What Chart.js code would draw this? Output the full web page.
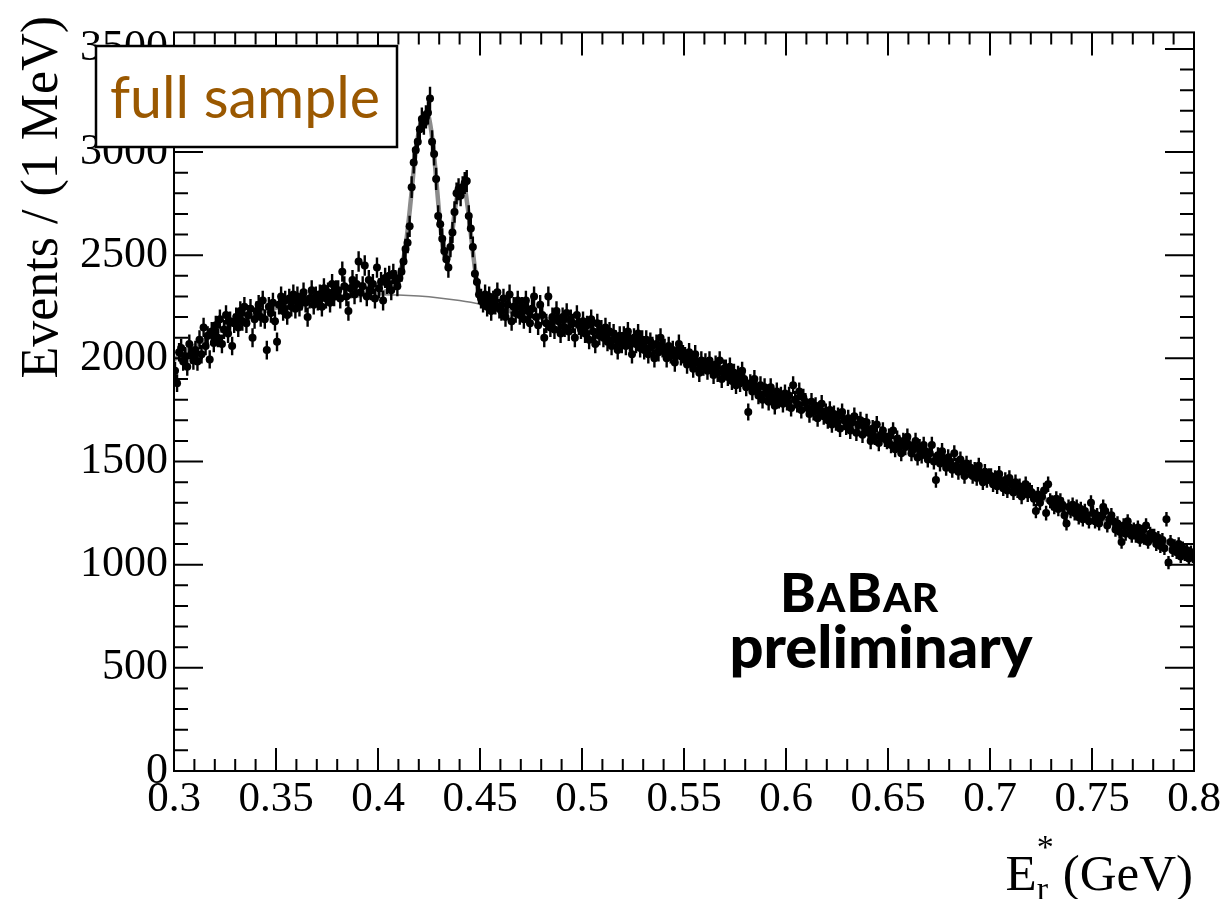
<!DOCTYPE html>
<html><head><meta charset="utf-8">
<script src="https://cdn.jsdelivr.net/npm/chart.js@4.4.1/dist/chart.umd.min.js"></script>
<style>html,body{margin:0;padding:0;background:#fff;}#wrap{width:1225px;height:899px;}</style>
</head><body><div id="wrap"><canvas id="c" width="1225" height="899"></canvas></div>
<script>
// histogram: 1 MeV bins from 0.300 to 0.800 GeV
const binStart = 0.3;
const binWidth = 0.001;
const counts = [
1940,1880,2030,2050,1985,2010,1960,2070,2020,1990,
2040,1985,2090,2020,2150,2060,2110,1995,2130,2075,
2160,2100,2190,2070,2140,2210,2120,2180,2060,2170,
2200,2150,2230,2180,2250,2170,2210,2240,2100,2190,
2230,2260,2200,2280,2190,2040,2250,2220,2270,2180,
2080,2260,2300,2230,2280,2210,2290,2250,2310,2240,
2300,2250,2280,2320,2270,2200,2290,2330,2260,2300,
2280,2310,2250,2340,2290,2320,2270,2360,2300,2330,
2330,2290,2420,2350,2300,2230,2340,2380,2310,2360,
2470,2320,2350,2450,2300,2380,2330,2360,2290,2440,
2340,2370,2280,2390,2360,2400,2330,2410,2380,2350,
2390,2420,2470,2530,2560,2640,2830,2950,3010,3050,
3110,3160,3140,3170,3190,3260,3050,2990,2870,2690,
2650,2580,2520,2480,2440,2540,2610,2710,2800,2820,
2790,2830,2850,2860,2690,2630,2540,2410,2370,2310,
2290,2270,2310,2250,2300,2230,2280,2260,2320,2240,
2230,2290,2200,2260,2310,2180,2250,2220,2280,2210,
2250,2190,2280,2230,2170,2240,2300,2200,2160,2260,
2210,2100,2170,2300,2150,2200,2140,2230,2180,2120,
2200,2150,2220,2130,2190,2170,2100,2210,2160,2140,
2180,2120,2160,2090,2190,2130,2070,2170,2110,2140,
2100,2150,2080,2130,2060,2120,2090,2040,2110,2070,
2110,2060,2130,2080,2020,2100,2070,2120,2050,2090,
2040,2090,2020,2080,2060,2000,2070,2030,2100,2050,
2050,2000,2060,2020,2040,1980,2030,2070,2010,2020,
2010,1970,2030,1990,1950,2020,1980,1930,1990,1960,
1980,1940,1990,1950,1920,1970,1930,1990,1900,1950,
1950,1910,1960,1890,1930,1870,1920,1880,1940,1900,
1860,1740,1880,1840,1900,1850,1820,1870,1800,1860,
1830,1790,1860,1810,1770,1840,1800,1820,1780,1830,
1790,1820,1760,1870,1800,1780,1840,1750,1810,1790,
1760,1730,1790,1740,1770,1710,1750,1780,1720,1740,
1700,1750,1680,1730,1690,1720,1660,1740,1700,1670,
1710,1650,1690,1720,1640,1680,1700,1630,1670,1690,
1640,1600,1660,1620,1680,1590,1630,1650,1610,1600,
1620,1580,1650,1560,1610,1590,1540,1600,1570,1620,
1580,1540,1560,1600,1520,1570,1530,1580,1550,1510,
1540,1580,1500,1410,1530,1490,1550,1510,1470,1520,
1500,1460,1540,1480,1450,1510,1470,1430,1490,1460,
1470,1430,1460,1420,1480,1440,1400,1450,1410,1430,
1430,1390,1420,1380,1440,1400,1370,1410,1360,1420,
1390,1350,1400,1360,1380,1330,1370,1390,1340,1360,
1350,1320,1260,1340,1300,1330,1360,1250,1390,1310,
1300,1280,1320,1270,1310,1290,1240,1200,1280,1260,
1290,1250,1280,1230,1270,1220,1260,1240,1210,1300,
1250,1210,1240,1200,1230,1280,1260,1190,1220,1240,
1210,1170,1200,1160,1110,1190,1150,1210,1180,1140,
1170,1140,1180,1120,1160,1130,1190,1110,1150,1140,
1140,1100,1130,1090,1120,1080,1220,1010,1110,1070,
1090,1060,1100,1040,1080,1050,1070,1030,1060,1040
];
// total fit curve
const fitX = [0.300,0.310,0.320,0.330,0.340,0.350,0.360,0.370,0.380,0.390,0.400,0.404,0.408,0.410,0.412,0.414,0.416,0.418,0.420,0.422,0.424,0.426,0.428,0.430,0.432,0.434,0.436,0.438,0.440,0.442,0.444,0.446,0.448,0.450,0.452,0.456,0.460,0.470,0.480,0.490,0.500,0.510,0.520,0.530,0.540,0.550,0.560,0.570,0.580,0.590,0.600,0.610,0.620,0.630,0.640,0.650,0.660,0.670,0.680,0.690,0.700,0.710,0.720,0.730,0.740,0.750,0.760,0.770,0.780,0.790,0.800];
const fitY = [1995,2060,2120,2172,2213,2245,2268,2285,2297,2305,2315,2325,2360,2395,2460,2580,2760,2960,3100,3175,3190,3110,2930,2700,2520,2470,2580,2740,2830,2840,2730,2560,2400,2300,2262,2250,2238,2218,2196,2175,2152,2125,2095,2063,2030,1997,1962,1926,1889,1850,1805,1764,1723,1682,1641,1600,1562,1525,1488,1451,1415,1379,1343,1307,1271,1235,1200,1166,1132,1098,1065];
// background component
const bkgX = [0.30,0.31,0.32,0.33,0.34,0.35,0.36,0.37,0.38,0.39,0.40,0.41,0.42,0.43,0.44,0.45,0.46,0.47,0.48,0.49,0.50,0.51,0.52,0.53,0.54,0.55,0.56,0.57,0.58,0.59,0.60,0.61,0.62,0.63,0.64,0.65,0.66,0.67,0.68,0.69,0.70,0.71,0.72,0.73,0.74,0.75,0.76,0.77,0.78,0.79,0.80];
const bkgY = [1995,2060,2120,2172,2213,2245,2268,2285,2297,2305,2308,2307,2302,2293,2280,2263,2240,2218,2196,2175,2152,2125,2095,2063,2030,1997,1962,1926,1889,1850,1805,1764,1723,1682,1641,1600,1562,1525,1488,1451,1415,1379,1343,1307,1271,1235,1200,1166,1132,1098,1065];
const xTicks = [0.3,0.35,0.4,0.45,0.5,0.55,0.6,0.65,0.7,0.75,0.8];
const xTickLabels = ['0.3','0.35','0.4','0.45','0.5','0.55','0.6','0.65','0.7','0.75','0.8'];
const yTicks = [0,500,1000,1500,2000,2500,3000,3500];
const yTickLabels = ['0','500','1000','1500','2000','2500','3000','3500'];
const xMinorStep = 0.01, yMinorStep = 100;
const yMax = 3580;

const serif = '"Liberation Serif","Times New Roman",serif';
const points = counts.map((n,i)=>({x: binStart + (i+0.5)*binWidth, y: n}));

const decor = {
  id:'decor',
  afterDatasetsDraw(chart){
    const c = chart.ctx, xs = chart.scales.x, ys = chart.scales.y, a = chart.chartArea;
    c.save();
    c.beginPath(); c.rect(a.left, a.top, a.right-a.left, a.bottom-a.top); c.clip();
    c.strokeStyle = '#000'; c.lineWidth = 2.4;
    c.beginPath();
    points.forEach(p=>{
      const e = Math.sqrt(p.y);
      const px = xs.getPixelForValue(p.x);
      c.moveTo(px, ys.getPixelForValue(p.y+e));
      c.lineTo(px, ys.getPixelForValue(p.y-e));
    });
    c.stroke();
    c.restore();
  },
  afterDraw(chart){
    const c = chart.ctx, xs = chart.scales.x, ys = chart.scales.y, a = chart.chartArea;
    c.save();
    c.strokeStyle = '#000'; c.lineWidth = 2;
    c.strokeRect(a.left, a.top, a.right-a.left, a.bottom-a.top);
    c.beginPath();
    for (let i=0;i<=50;i++){
      const v = 0.3 + i*xMinorStep;
      const px = xs.getPixelForValue(v);
      const major = (i%5===0);
      const L = major ? 23 : 12;
      c.moveTo(px, a.bottom); c.lineTo(px, a.bottom-L);
      c.moveTo(px, a.top); c.lineTo(px, a.top+L);
    }
    for (let i=0;i<=35;i++){
      const v = i*yMinorStep;
      const py = ys.getPixelForValue(v);
      const major = (i%5===0);
      const L = major ? 29 : 14;
      c.moveTo(a.left, py); c.lineTo(a.left+L, py);
      c.moveTo(a.right, py); c.lineTo(a.right-L, py);
    }
    c.stroke();

    // y title
    c.fillStyle = '#000';
    c.save();
    c.translate(57, 16);
    c.rotate(-Math.PI/2);
    c.font = '52px ' + serif;
    c.textAlign = 'right'; c.textBaseline = 'alphabetic';
    c.fillText('Events / (1 MeV)', 0, 0);
    c.restore();

    // x title: E*_r (GeV)
    c.textBaseline = 'alphabetic';
    c.textAlign = 'left';
    const big = '51px ' + serif, small = '34px ' + serif;
    c.font = big;
    const wG = c.measureText(' (GeV)').width;
    const xG = 1193 - wG;
    c.fillText(' (GeV)', xG, 890);
    c.font = small;
    const wr = c.measureText('r').width;
    const xr = xG - wr - 2;
    c.fillText('r', xr, 900);
    c.fillText('*', xr, 858);
    c.font = big;
    const wE = c.measureText('E').width;
    c.fillText('E', xr - wE, 890);

    // full sample box
    c.fillStyle = '#fff';
    c.fillRect(96, 46, 301, 101);
    c.lineWidth = 2.5; c.strokeStyle = '#000';
    c.strokeRect(96, 46, 301, 101);
    c.fillStyle = '#9a5800';
    c.font = '56px Lato, "Open Sans", sans-serif';
    let w = c.measureText('full sample').width;
    const fs = 56 * 270 / w;
    c.font = fs.toFixed(1) + 'px Lato, "Open Sans", sans-serif';
    c.fillText('full sample', 110, 118);

    // BaBar preliminary
    c.fillStyle = '#000';
    const bf = (s)=> '900 ' + s + 'px Lato, "Open Sans", sans-serif';
    const parts = [['B',45],['A',34],['B',45],['AR',34]];
    let tot = 0;
    parts.forEach(p=>{ c.font = bf(p[1]); tot += c.measureText(p[0]).width + 1; });
    const sc = 160 / tot;
    let x0 = 780;
    parts.forEach(p=>{ c.font = bf((p[1]*sc).toFixed(1)); c.fillText(p[0], x0, 612); x0 += c.measureText(p[0]).width + 1; });
    c.font = bf(56);
    w = c.measureText('preliminary').width;
    const pf = 56 * 303 / w;
    c.font = bf(pf.toFixed(1));
    c.textAlign = 'center';
    c.fillText('preliminary', 881, 668);
    c.restore();
  }
};

new Chart(document.getElementById('c').getContext('2d'), {
  type: 'scatter',
  data: { datasets: [
    { type:'scatter', label:'data', data: points, pointRadius: 4, pointHoverRadius: 4,
      pointBackgroundColor:'#000', pointBorderColor:'#000', pointBorderWidth:0, order: 0 },
    { type:'line', label:'fit', data: fitX.map((x,i)=>({x:x, y:fitY[i]})), showLine:true,
      borderColor:'#8c8c8c', borderWidth:4.5, pointRadius:0, cubicInterpolationMode:'monotone', fill:false, order: 1 },
    { type:'line', label:'background', data: bkgX.map((x,i)=>({x:x, y:bkgY[i]})), showLine:true,
      borderColor:'#7a7a7a', borderWidth:1.5, pointRadius:0, cubicInterpolationMode:'monotone', fill:false, order: 2 }
  ]},
  options: {
    responsive:false, animation:false, devicePixelRatio:1,
    layout:{ padding:{ left:0, right:31, top:15, bottom:0 } },
    plugins:{ legend:{display:false}, tooltip:{enabled:false} },
    scales:{
      x:{ type:'linear', min:0.3, max:0.8,
        afterBuildTicks: s=>{ s.ticks = xTicks.map(v=>({value:v})); },
        afterFit: s=>{ s.height = 128; },
        grid:{ display:false, drawTicks:false }, border:{ display:false },
        ticks:{ padding:3, autoSkip:false, maxRotation:0, color:'#000',
          font:{ family:serif, size:43 }, callback:(v,i)=>xTickLabels[i] } },
      y:{ type:'linear', min:0, max:yMax,
        afterBuildTicks: s=>{ s.ticks = yTicks.map(v=>({value:v})); },
        afterFit: s=>{ s.width = 174; },
        grid:{ display:false, drawTicks:false }, border:{ display:false },
        ticks:{ padding:6, autoSkip:false, color:'#000',
          font:{ family:serif, size:44 }, callback:(v,i)=>yTickLabels[i] } }
    }
  },
  plugins:[decor]
});
</script></body></html>
